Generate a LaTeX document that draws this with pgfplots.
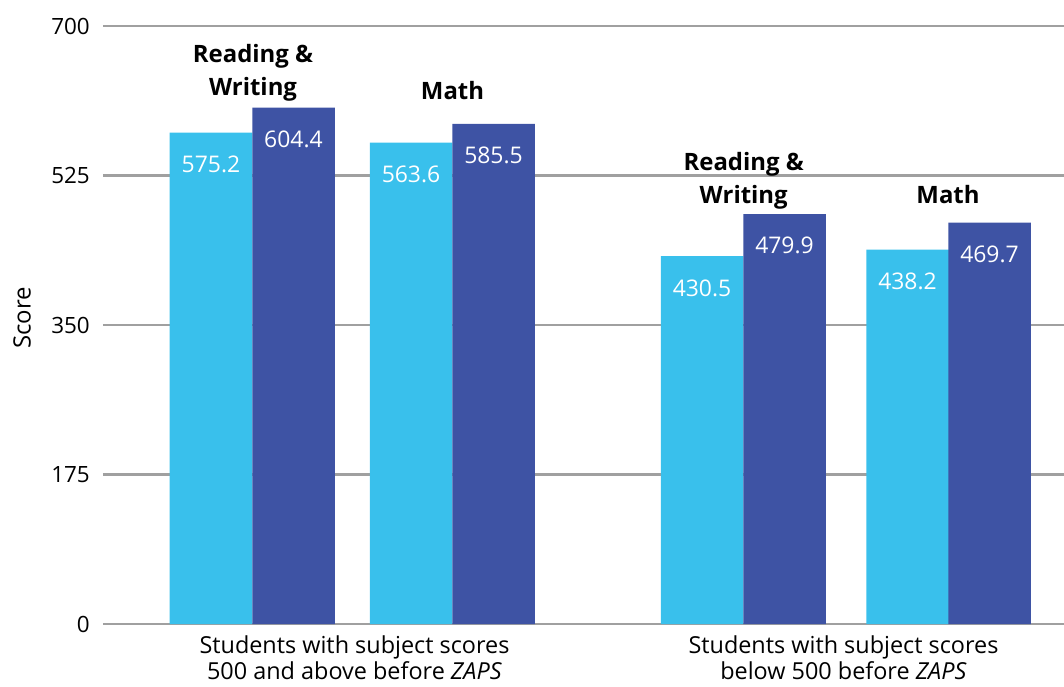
\documentclass[border=0pt]{standalone}
\usepackage{fontspec}
\setmainfont{Open Sans}
\usepackage{pgfplots}
\pgfplotsset{compat=1.18}
\definecolor{lightbar}{RGB}{57,192,236}
\definecolor{darkbar}{RGB}{62,83,164}
\definecolor{gridgray}{RGB}{160,160,160}

\begin{document}
\begin{tikzpicture}
\useasboundingbox (-103bp,-63bp) rectangle (961bp,624bp);
\begin{axis}[
    scale only axis,
    width=961bp, height=598bp,
    xmin=103, xmax=1064,
    ymin=0, ymax=700,
    axis line style={draw=none},
    ytick={0,175,350,525,700},
    ymajorgrids,
    grid style={gridgray, line width=2.5bp},
    major tick length=0pt,
    /pgf/number format/assume math mode=true,
    yticklabel style={font=\fontsize{22.5}{26}\selectfont, inner sep=0pt, anchor=east, xshift=-13bp},
    xtick={354.5,843.5},
    xticklabels={{Students with subject scores\\500 and above before \textit{ZAPS}},
                 {Students with subject scores\\below 500 before \textit{ZAPS}}},
    xticklabel style={font=\fontsize{23.5}{26}\selectfont, align=center, inner sep=0pt, anchor=north, yshift=-12bp},
    ylabel={Score},
    ylabel style={font=\fontsize{24}{28}\selectfont, at={(axis description cs:-0.0843,0.512)}, anchor=center},
    ybar, bar width=82.5,
    clip=false,
    nodes near coords={\pgfmathprintnumber[fixed,fixed zerofill,precision=1]{\pgfplotspointmeta}},
    every node near coord/.append style={anchor=north, yshift=-23bp, inner sep=0pt,
        white, font=\fontsize{23}{26}\selectfont},
]
\addplot[fill=lightbar, draw=none, bar shift=0pt] coordinates {
    (211,575.2) (411,563.6) (702,430.5) (907.5,438.2)
};
\addplot[fill=darkbar, draw=none, bar shift=0pt] coordinates {
    (293.5,604.4) (493.5,585.5) (784.5,479.9) (989.5,469.7)
};
\begin{scope}[every node/.style={font=\fontsize{24}{28}\selectfont\bfseries, anchor=base, inner sep=0pt}]
\node at (axis cs:253,656.7) {Reading \&};
\node at (axis cs:253,619.2) {Writing};
\node at (axis cs:452.5,614.5) {Math};
\node at (axis cs:743.7,531.4) {Reading \&};
\node at (axis cs:743.7,492.4) {Writing};
\node at (axis cs:948,492.4) {Math};
\end{scope}
\end{axis}
\end{tikzpicture}
\end{document}
